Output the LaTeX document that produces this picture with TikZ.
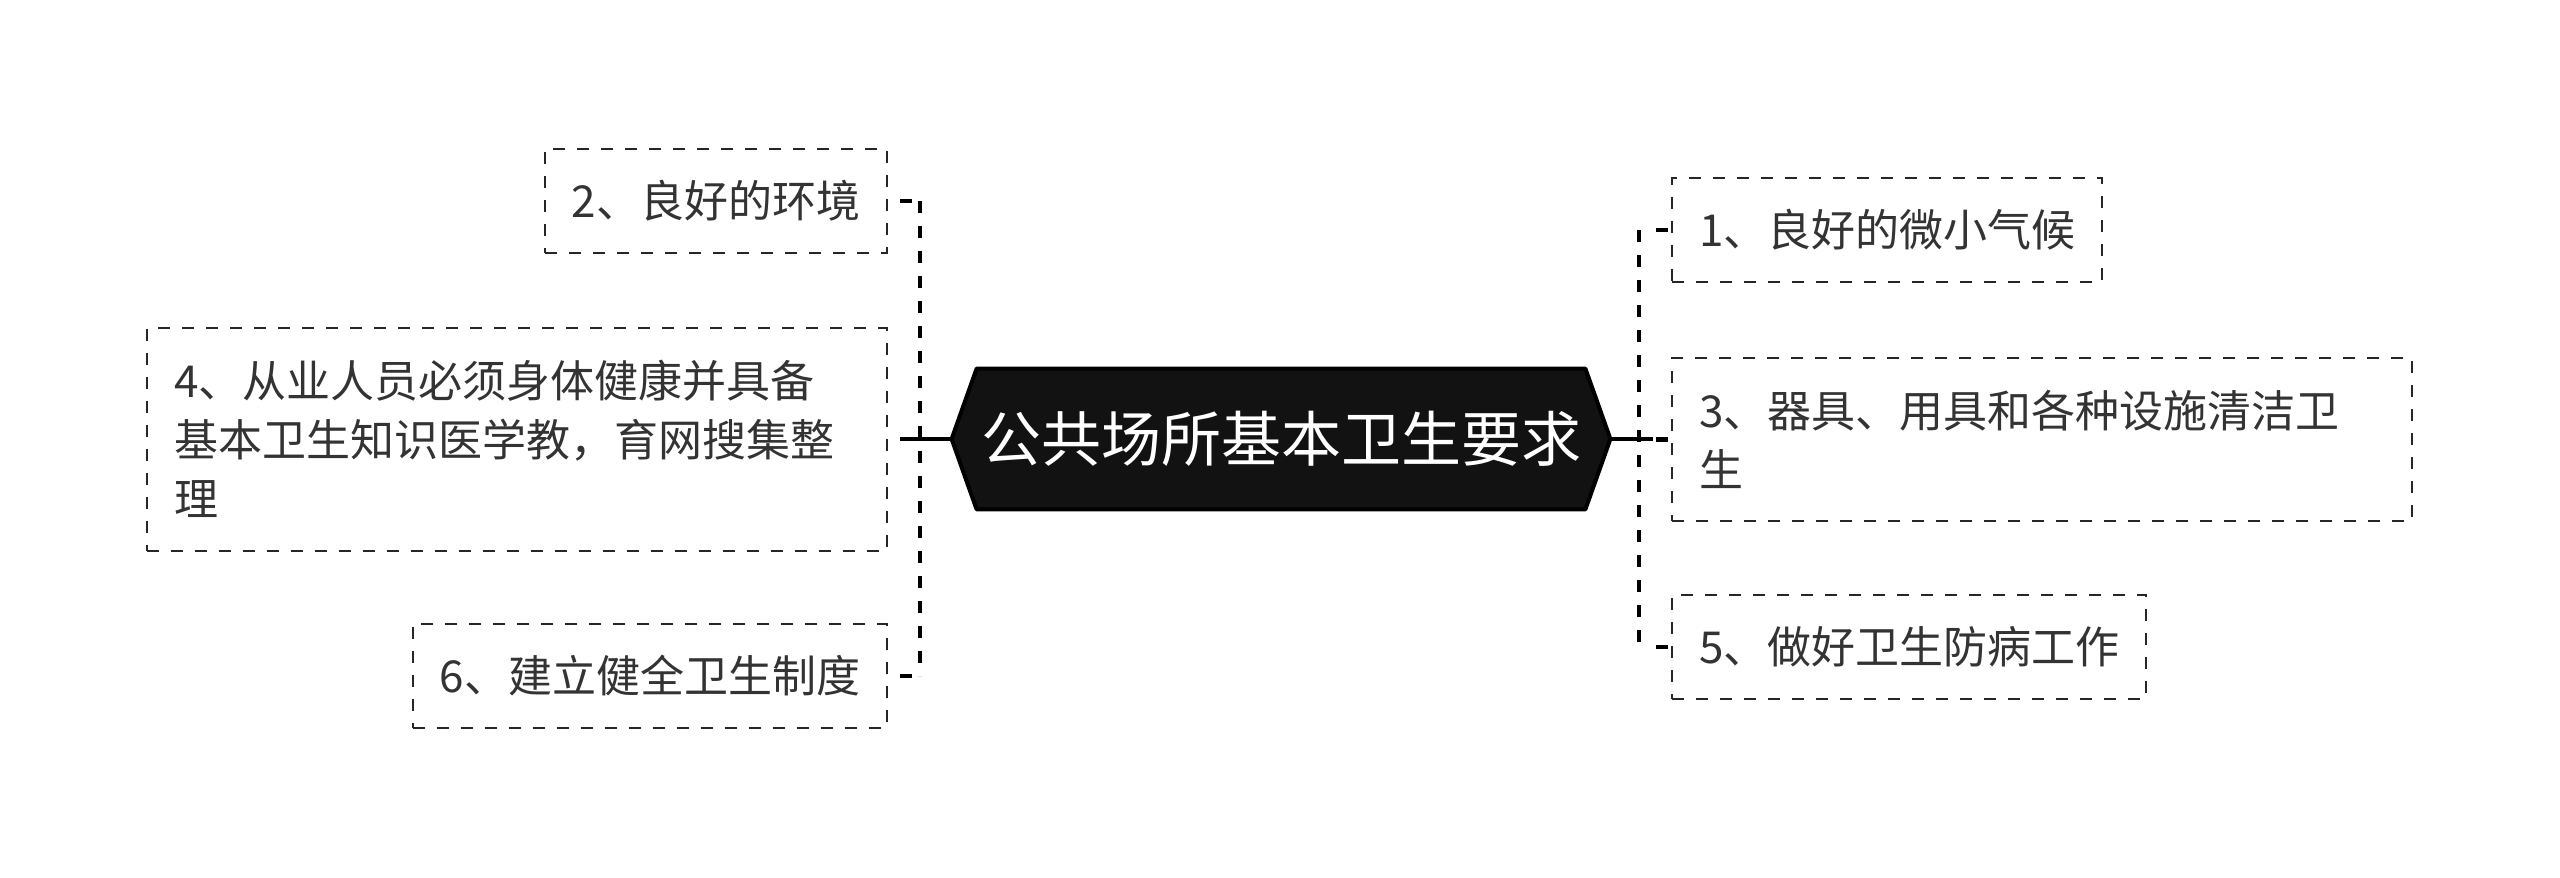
\documentclass[tikz,border=0pt]{standalone}
\usepackage{fontspec}
\setmainfont{Noto Sans CJK SC}
\usetikzlibrary{backgrounds}

\begin{document}
\begin{tikzpicture}[
  x=0.5pt, y=-0.5pt,
  every node/.style={font=\fontsize{22pt}{29.5pt}\selectfont, text=black!80},
  leaf/.style={draw=black!85, line width=1pt, dash pattern=on 6pt off 6pt,
    inner xsep=13.5pt, inner ysep=0pt, minimum height=52pt, align=left},
  root/.style={font=\fontsize{30pt}{36pt}\selectfont, text=white,
    minimum width=304pt, minimum height=70pt, inner sep=0pt},
  trunk/.style={draw=black, line width=2.2pt},
  link/.style={draw=black, line width=2.3pt, dash pattern=on 6pt off 6.5pt},
  joint/.style={draw=black, line width=2.3pt, dash pattern=on 6pt off 24pt, dash phase=#1}
]
\useasboundingbox (0,0) rectangle (2560,878);

% centre
\node[root] (root) at (1281,439) {公共场所基本卫生要求};
\begin{scope}[on background layer]
  \draw[fill=black!93, draw=black, line width=2pt, line join=round]
    (root.north west) -- (root.north east) -- ([xshift=12.5pt]root.east)
    -- (root.south east) -- (root.south west) -- ([xshift=-12.5pt]root.west) -- cycle;
\end{scope}

% right side
\node[leaf, anchor=west] (item1) at (1671,230) {1、良好的微小气候};
\node[leaf, anchor=west, text width=343pt, minimum height=81.5pt] (item3) at (1671,439.5)
  {3、器具、用具和各种设施清洁卫\\生};
\node[leaf, anchor=west] (item5) at (1671,647) {5、做好卫生防病工作};

% left side
\node[leaf, anchor=east] (item2) at (888,201) {2、良好的环境};
\node[leaf, anchor=east, text width=343pt, minimum height=111.5pt] (item4) at (888,439)
  {4、从业人员必须身体健康并具备\\基本卫生知识医学教，育网搜集整\\理};
\node[leaf, anchor=east] (item6) at (888,676) {6、建立健全卫生制度};

% connectors
\coordinate (rbus) at (1639,439);
\coordinate (lbus) at (920,439);

\draw[trunk] ([xshift=12.5pt]root.east) -- ([xshift=7pt]rbus);
\draw[link] (rbus |- item1.west) -- (rbus |- item5.west);
\foreach \n in {item1,item3,item5}
  \draw[joint=21.5pt] (rbus |- \n.west) -- (\n.west);

\draw[trunk] ([xshift=-12.5pt]root.west) -- ([xshift=-6pt]lbus);
\draw[link] (lbus |- item2.east) -- (lbus |- item6.east);
\foreach \n in {item2,item4,item6}
  \draw[joint=26pt] (lbus |- \n.east) -- (\n.east);

\end{tikzpicture}
\end{document}
